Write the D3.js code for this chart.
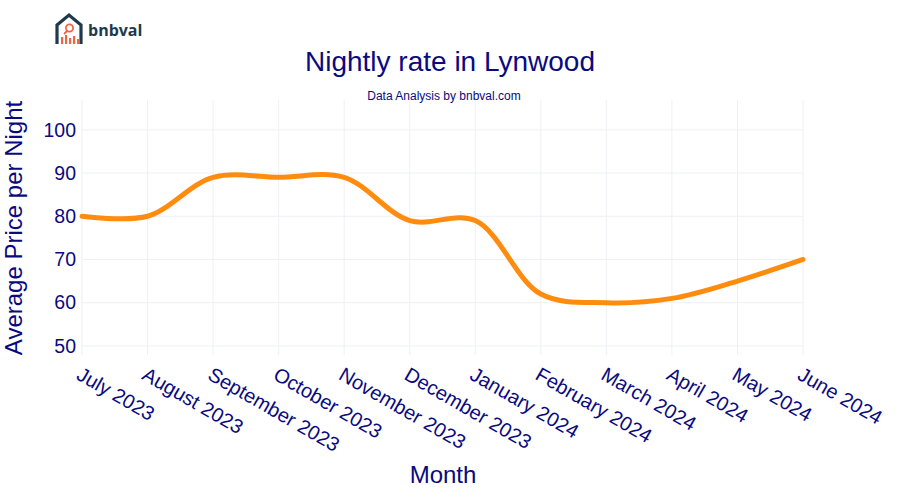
<!DOCTYPE html>
<html><head><meta charset="utf-8">
<script src="https://cdn.jsdelivr.net/npm/d3@7"></script>
<style>body{margin:0;background:#fff;}svg{display:block;font-family:"Liberation Sans",Arial,sans-serif;}</style>
</head><body><svg id="c" width="900" height="500"></svg>
<script>
const months = ["July 2023","August 2023","September 2023","October 2023","November 2023","December 2023","January 2024","February 2024","March 2024","April 2024","May 2024","June 2024"];
const prices = [80,80,89,89,89,79,79,62,60,61,65,70];
const yTicks = [50,60,70,80,90,100];

const svg = d3.select("#c");
const m = {l:82, r:803, t:100, b:355};
const x = d3.scalePoint().domain(months).range([m.l, m.r]);
const y = d3.scaleLinear().domain([47.9, 106.9]).range([m.b, m.t]);
const navy = "#0a0a80";

// grid
svg.append("g").selectAll("line").data(yTicks).join("line")
  .attr("x1", m.l).attr("x2", m.r).attr("y1", d=>y(d)).attr("y2", d=>y(d))
  .attr("stroke", "#eef0f5").attr("stroke-width", 1);
svg.append("g").selectAll("line").data(months).join("line")
  .attr("x1", d=>x(d)).attr("x2", d=>x(d)).attr("y1", m.t).attr("y2", m.b)
  .attr("stroke", "#eef0f5").attr("stroke-width", 1);

// y axis
const ya = svg.append("g").attr("transform", `translate(${m.l},0)`)
  .call(d3.axisLeft(y).tickValues(yTicks).tickSize(0).tickPadding(6));
ya.select(".domain").remove();
ya.selectAll("text").attr("fill", navy).attr("font-size", 19.5).attr("font-family", "Liberation Sans, Arial, sans-serif");

// x axis
const xa = svg.append("g").attr("transform", `translate(0,${m.b})`)
  .call(d3.axisBottom(x).tickSize(0).tickPadding(0));
xa.select(".domain").remove();
xa.selectAll("text").attr("fill", navy).attr("font-size", 20).attr("font-family", "Liberation Sans, Arial, sans-serif")
  .attr("text-anchor", "start").attr("dy", null).attr("y", 0)
  .attr("transform", "translate(0,11) rotate(30)").attr("dominant-baseline", "hanging");

// line
const line = d3.line().x((d,i)=>x(months[i])).y(d=>y(d)).curve(d3.curveCatmullRom.alpha(0.5));
svg.append("path").datum(prices).attr("d", line).attr("fill", "none")
  .attr("stroke", "#ff8c0f").attr("stroke-width", 5).attr("stroke-linecap", "round");

// titles
svg.append("text").attr("x", 450).attr("y", 71).attr("text-anchor", "middle")
  .attr("fill", navy).attr("font-size", 28).text("Nightly rate in Lynwood");
svg.append("text").attr("x", 444).attr("y", 100).attr("text-anchor", "middle")
  .attr("fill", navy).attr("font-size", 12).text("Data Analysis by bnbval.com");
svg.append("text").attr("x", 443).attr("y", 483).attr("text-anchor", "middle")
  .attr("fill", navy).attr("font-size", 24).text("Month");
svg.append("text").attr("transform", "translate(22,228) rotate(-90)").attr("text-anchor", "middle")
  .attr("fill", navy).attr("font-size", 24).text("Average Price per Night");

// logo
const lg = svg.append("g").attr("transform", "translate(55,13)");
lg.append("path").attr("d", "M2,31 L2,12 L14,2 L26,12 L26,31").attr("fill", "none")
  .attr("stroke", "#1e3a4c").attr("stroke-width", 3.2).attr("stroke-linejoin", "miter");
lg.append("circle").attr("cx", 14.5).attr("cy", 15).attr("r", 3.6).attr("fill", "none").attr("stroke", "#f06548").attr("stroke-width", 1.8);
lg.append("line").attr("x1", 12).attr("y1", 18).attr("x2", 9).attr("y2", 21).attr("stroke", "#f06548").attr("stroke-width", 1.8);
[[6,24,7],[10,22,9],[14,25,6],[18,23,8],[22,26,5]].forEach(b=>{
  lg.append("rect").attr("x", b[0]).attr("y", b[1]).attr("width", 2.2).attr("height", b[2]).attr("fill", "#f06548");
});
svg.append("text").attr("x", 88).attr("y", 36).attr("fill", "#1e3a4c").attr("font-size", 16)
  .attr("font-weight", "bold").attr("font-family", "Open Sans, sans-serif").text("bnbval");
</script></body></html>
